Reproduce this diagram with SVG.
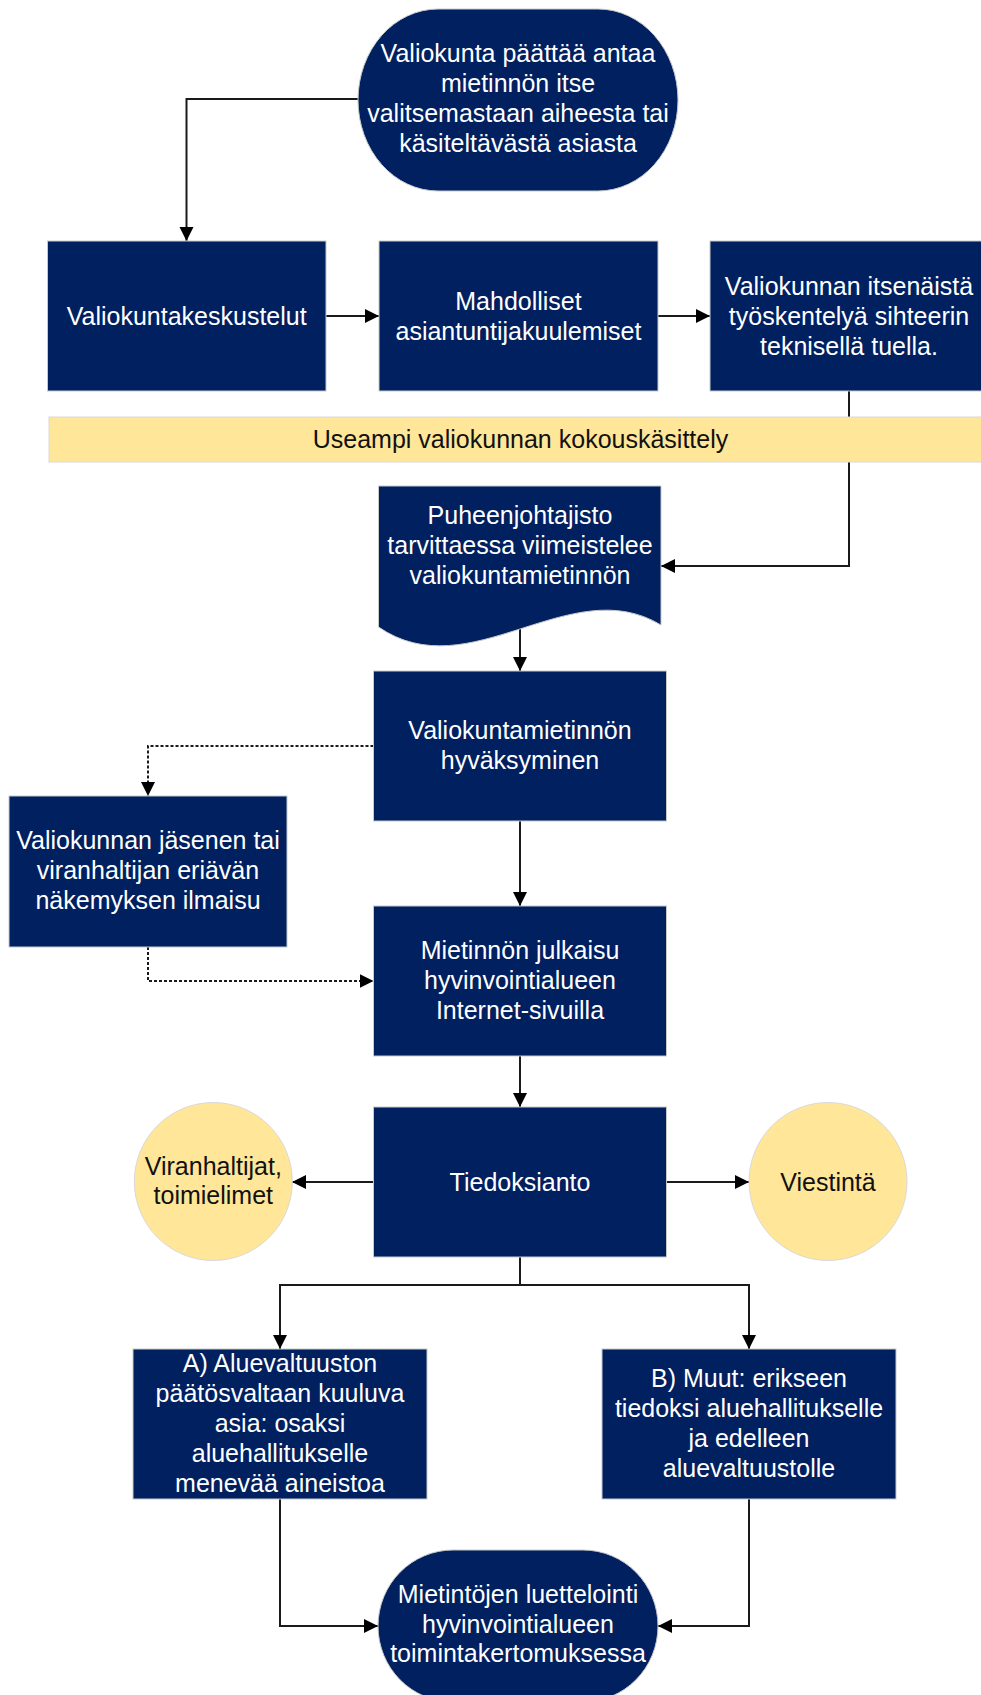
<svg xmlns="http://www.w3.org/2000/svg" width="981" height="1695" viewBox="0 0 981 1695">
<defs>
<style>
.n{fill:#002060;stroke:#c9c9c9;stroke-width:1}
.y{fill:#FFE699;stroke:#d9d9d9;stroke-width:1}
.t{font-family:"Liberation Sans",Arial,sans-serif;font-size:25px;fill:#ffffff;text-anchor:middle}
.k{font-family:"Liberation Sans",Arial,sans-serif;font-size:25px;fill:#111111;text-anchor:middle}
.c{fill:none;stroke:#1a1a1a;stroke-width:2;marker-end:url(#a)}
.d{fill:none;stroke:#1a1a1a;stroke-width:2;stroke-dasharray:3 2;marker-end:url(#a)}
</style>
<marker id="a" markerUnits="userSpaceOnUse" markerWidth="15" markerHeight="15" refX="14" refY="7" orient="auto">
<path d="M0,0 L14,7 L0,14 Z" fill="#000000"/>
</marker>
</defs>
<rect width="981" height="1695" fill="#ffffff"/>
<g id="connectors">
<path class="c" d="M358,99 H186.5 V241"/>
<path class="c" d="M326,316 H379"/>
<path class="c" d="M658,316 H710"/>
<path class="c" d="M849,391 V566 H661"/>
<path class="c" d="M520,626 V671"/>
<path class="d" d="M373.5,746 H148 V796"/>
<path class="c" d="M520,821 V906"/>
<path class="d" d="M148,947 V981 H373.5"/>
<path class="c" d="M520,1056 V1107"/>
<path class="c" d="M373.5,1182 H292"/>
<path class="c" d="M666.5,1182 H749"/>
<path class="c" d="M520,1257 V1285 H280 V1349"/>
<path class="c" d="M520,1285 H749 V1349"/>
<path class="c" d="M280,1499 V1626 H378"/>
<path class="c" d="M749,1499 V1626 H658"/>
</g>
<g id="start">
<rect class="n" x="358" y="9" width="320" height="182" rx="80" ry="91"/>
<text class="t" x="518" y="62">Valiokunta päättää antaa</text>
<text class="t" x="518" y="92">mietinnön itse</text>
<text class="t" x="518" y="122">valitsemastaan aiheesta tai</text>
<text class="t" x="518" y="152">käsiteltävästä asiasta</text>
</g>
<g id="keskustelut">
<rect class="n" x="47.5" y="241" width="278.5" height="150"/>
<text class="t" x="186.7" y="325">Valiokuntakeskustelut</text>
</g>
<g id="kuulemiset">
<rect class="n" x="379" y="241" width="279" height="150"/>
<text class="t" x="518.5" y="310">Mahdolliset</text>
<text class="t" x="518.5" y="340">asiantuntijakuulemiset</text>
</g>
<g id="tyoskentely">
<rect class="n" x="710" y="241" width="278" height="150"/>
<text class="t" x="849" y="295">Valiokunnan itsenäistä</text>
<text class="t" x="849" y="325">työskentelyä sihteerin</text>
<text class="t" x="849" y="355">teknisellä tuella.</text>
</g>
<g id="kokous">
<rect class="y" x="49" y="417" width="945" height="45"/>
<text class="k" x="520.5" y="448">Useampi valiokunnan kokouskäsittely</text>
</g>
<g id="puheenjohtajisto">
<path class="n" d="M378.5,486 H661 V625 C570,570 470,690 378.5,627 Z"/>
<text class="t" x="520" y="524">Puheenjohtajisto</text>
<text class="t" x="520" y="554">tarvittaessa viimeistelee</text>
<text class="t" x="520" y="584">valiokuntamietinnön</text>
</g>
<g id="hyvaksyminen">
<rect class="n" x="373.5" y="671" width="293" height="150"/>
<text class="t" x="520" y="739">Valiokuntamietinnön</text>
<text class="t" x="520" y="769">hyväksyminen</text>
</g>
<g id="eriava">
<rect class="n" x="9" y="796" width="278" height="151"/>
<text class="t" x="148" y="849">Valiokunnan jäsenen tai</text>
<text class="t" x="148" y="879">viranhaltijan eriävän</text>
<text class="t" x="148" y="909">näkemyksen ilmaisu</text>
</g>
<g id="julkaisu">
<rect class="n" x="373.5" y="906" width="293" height="150"/>
<text class="t" x="520" y="959">Mietinnön julkaisu</text>
<text class="t" x="520" y="989">hyvinvointialueen</text>
<text class="t" x="520" y="1019">Internet-sivuilla</text>
</g>
<g id="tiedoksianto">
<rect class="n" x="373.5" y="1107" width="293" height="150"/>
<text class="t" x="520" y="1191">Tiedoksianto</text>
</g>
<g id="viranhaltijat">
<circle class="y" cx="213.3" cy="1181.5" r="79"/>
<text class="k" x="213.3" y="1175">Viranhaltijat,</text>
<text class="k" x="213.3" y="1204">toimielimet</text>
</g>
<g id="viestinta">
<circle class="y" cx="828" cy="1181.5" r="79"/>
<text class="k" x="828" y="1191">Viestintä</text>
</g>
<g id="a-aluevaltuusto">
<rect class="n" x="133" y="1349" width="294" height="150"/>
<text class="t" x="280" y="1372">A) Aluevaltuuston</text>
<text class="t" x="280" y="1402">päätösvaltaan kuuluva</text>
<text class="t" x="280" y="1432">asia: osaksi</text>
<text class="t" x="280" y="1462">aluehallitukselle</text>
<text class="t" x="280" y="1492">menevää aineistoa</text>
</g>
<g id="b-muut">
<rect class="n" x="602" y="1349" width="294" height="150"/>
<text class="t" x="749" y="1387">B) Muut: erikseen</text>
<text class="t" x="749" y="1417">tiedoksi aluehallitukselle</text>
<text class="t" x="749" y="1447">ja edelleen</text>
<text class="t" x="749" y="1477">aluevaltuustolle</text>
</g>
<g id="luettelointi">
<rect class="n" x="378" y="1550" width="280" height="152" rx="75" ry="76"/>
<text class="t" x="518" y="1603">Mietintöjen luettelointi</text>
<text class="t" x="518" y="1633">hyvinvointialueen</text>
<text class="t" x="518" y="1662">toimintakertomuksessa</text>
</g>
</svg>
